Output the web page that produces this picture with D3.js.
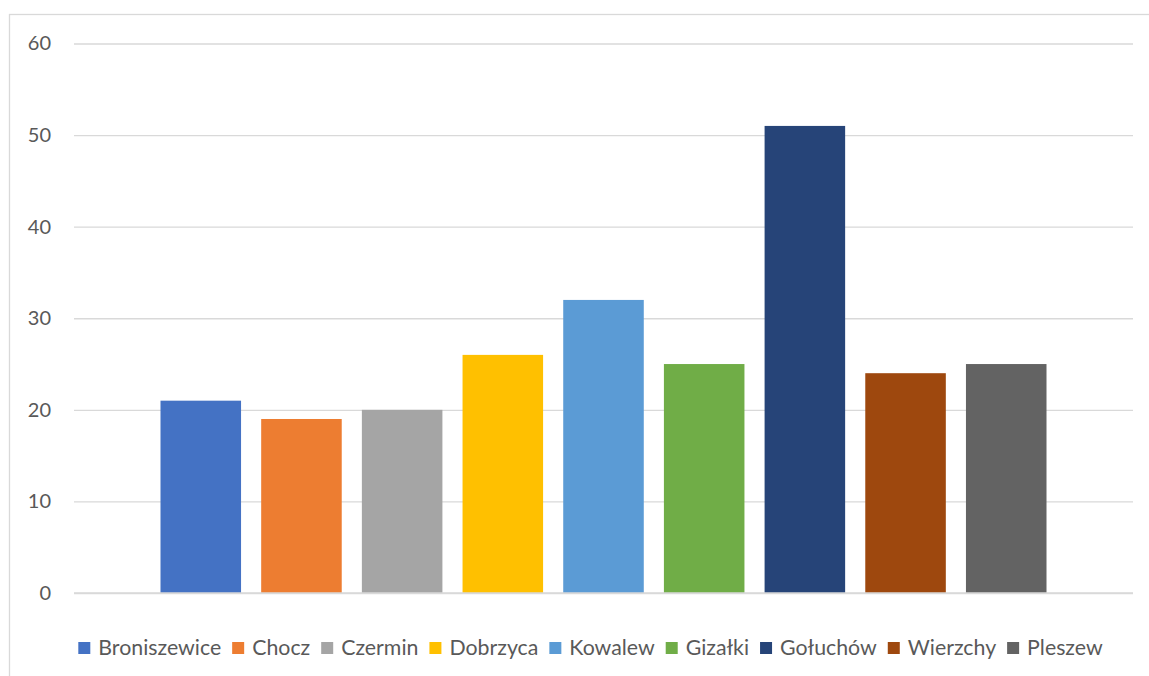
<!DOCTYPE html>
<html><head><meta charset="utf-8">
<script src="https://cdn.jsdelivr.net/npm/d3@7"></script>
<style>html,body{margin:0;padding:0;background:#fff;overflow:hidden}</style>
</head><body>
<svg id="chart" width="1149" height="676"></svg>
<script>
const categories = ["Broniszewice","Chocz","Czermin","Dobrzyca","Kowalew","Gizałki","Gołuchów","Wierzchy","Pleszew"];
const values = [21,19,20,26,32,25,51,24,25];
const colors = ["#4472C4","#ED7D31","#A5A5A5","#FFC000","#5B9BD5","#70AD47","#264478","#9E480E","#636363"];
const yTicks = [0,10,20,30,40,50,60];

const svg = d3.select("#chart");
const font = "Lato, 'Open Sans', sans-serif";
const textColor = "#595959";

// outer border
svg.append("rect").attr("x",9.5).attr("y",14.5).attr("width",1200).attr("height",700)
  .attr("fill","#fff").attr("stroke","#d9d9d9").attr("stroke-width",1.3);

const plot = {left:74, right:1133, top:43.5, bottom:593};
const y = d3.scaleLinear().domain([0,60]).range([plot.bottom, plot.top]);
const center = (plot.left+plot.right)/2;
const clusterW = 886;
const x = d3.scaleBand().domain(categories).range([center-clusterW/2, center+clusterW/2]).paddingInner(0.2).paddingOuter(0);

// gridlines
const yAxis = d3.axisLeft(y).tickValues(yTicks).tickSize(-(plot.right-plot.left)).tickPadding(23).tickFormat(d3.format("d"));
const g = svg.append("g").attr("transform",`translate(${plot.left},0)`).call(yAxis);
g.select(".domain").remove();
g.selectAll(".tick line").attr("stroke","#d9d9d9").attr("stroke-width",1.3);
g.selectAll(".tick text").attr("fill",textColor).style("font-family",font).style("font-size","20px");

// bars
svg.append("g").selectAll("rect").data(categories).join("rect")
  .attr("x",d=>x(d)).attr("width",x.bandwidth())
  .attr("y",(d,i)=>y(values[i])).attr("height",(d,i)=>y(0)-y(values[i]))
  .attr("fill",(d,i)=>colors[i]);

// baseline
svg.append("line").attr("x1",plot.left).attr("x2",plot.right).attr("y1",y(0)).attr("y2",y(0))
  .attr("stroke","#d9d9d9").attr("stroke-width",1.3);

// legend
const leg = svg.append("g");
const items = leg.selectAll("g").data(categories).join("g");
items.append("rect").attr("width",12).attr("height",12).attr("y",-13).attr("fill",(d,i)=>colors[i]);
const texts = items.append("text").attr("x",20).attr("y",0).text(d=>d)
  .attr("fill",textColor).style("font-family",font).style("font-size","20px");
const gap = 11;
const targetTotal = 1025;
let widths = [];
function measure(){ widths = []; texts.each(function(){ widths.push(this.getComputedTextLength()); }); }
measure();
const fixed = categories.length*20 + gap*(categories.length-1);
const fs = 20 * (targetTotal - fixed) / d3.sum(widths);
texts.style("font-size", fs + "px");
measure();
const total = d3.sum(widths.map(w=>20+w)) + gap*(categories.length-1);
let cx = center - total/2 - 13;
items.attr("transform",(d,i)=>{ const t=`translate(${cx},655)`; cx += 20+widths[i]+gap; return t; });
</script>
</body></html>
